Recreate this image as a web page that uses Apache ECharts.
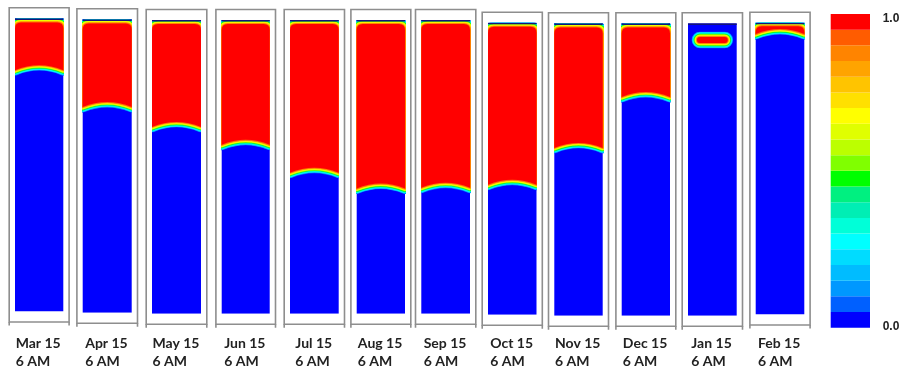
<!DOCTYPE html>
<html>
<head>
<meta charset="utf-8">
<script src="https://cdn.jsdelivr.net/npm/echarts@6/dist/echarts.min.js"></script>
<style>
  html, body { margin: 0; padding: 0; background: #ffffff; }
  #chart { width: 903px; height: 368px; }
</style>
</head>
<body>
<div id="chart"></div>
<script>
// ---- data ----------------------------------------------------------------
const months = ['Mar 15', 'Apr 15', 'May 15', 'Jun 15', 'Jul 15', 'Aug 15',
                'Sep 15', 'Oct 15', 'Nov 15', 'Dec 15', 'Jan 15', 'Feb 15'];
const timeOfDay = '6 AM';

// Top of the warm (1.0) zone in each tank, fraction of tank height
const warmTop = [0.986, 0.986, 0.986, 0.986, 0.986, 0.986,
                 0.986, 0.986, 0.986, 0.986, 0.953, 0.988];
// Bottom of the warm zone (thermocline, at tank centre line)
const warmBottom = [0.840, 0.718, 0.653, 0.592, 0.497, 0.443,
                    0.446, 0.462, 0.591, 0.765, 0.933, 0.978];
// Width of the warm zone as a fraction of tank width
const warmWidth = [1, 1, 1, 1, 1, 1, 1, 1, 1, 1, 0.63, 1];

// Colour scale, 0.0 (bottom) to 1.0 (top)
const scaleColors = ['#0000ff', '#0060ff', '#0098ff', '#00bcff', '#00dcff',
                     '#00ffff', '#00ffd8', '#00eeb4', '#00f080', '#00ff00',
                     '#80ff00', '#bcff00', '#e0ff00', '#ffff00', '#ffe000',
                     '#ffc400', '#ffa400', '#ff8400', '#ff5c00', '#ff0000'];
const scaleTicks = [0, 1];

// ---- layout --------------------------------------------------------------
// inner box of each tank: [left, top, width, height] in px
const tankBox = [
  [15.0, 18.3, 48.3, 294.4], [82.7, 19.3, 49.0, 294.7], [152.0, 20.0, 49.0, 295.0],
  [221.7, 20.0, 48.0, 295.0], [290.0, 20.0, 48.7, 295.0], [356.7, 20.0, 48.3, 295.0],
  [421.3, 20.0, 48.7, 295.0], [488.0, 22.7, 48.5, 293.3], [554.3, 23.3, 48.4, 293.7],
  [621.7, 23.3, 48.3, 293.7], [688.0, 23.3, 48.7, 293.7], [755.7, 22.7, 48.6, 293.0]
];
const LABEL_TOP = 336;
const FRAME_SIDE = 5.8, FRAME_TOP = 10.5, FRAME_BOTTOM = 10.5, FRAME_LEG = 3.5;
const FRAME_COLOR = '#8e8e8e';
const CORNER = 6, DROP = 5, STEP = 0.3;
const LABEL_FONT = 'Lato';

const measureCtx = document.createElement('canvas').getContext('2d');
measureCtx.font = 'bold 14px ' + LABEL_FONT;

// ---- renderers -----------------------------------------------------------
function renderFrame(params, api) {
  const cs = params.coordSys;
  const l = cs.x - FRAME_SIDE, r = cs.x + cs.width + FRAME_SIDE;
  const t = cs.y - FRAME_TOP, b = cs.y + cs.height + FRAME_BOTTOM;
  const line = { stroke: FRAME_COLOR, lineWidth: 1.6 };
  return {
    type: 'group',
    children: [
      { type: 'rect', shape: { x: l, y: t, width: r - l, height: b - t },
        style: { fill: '#ffffff', stroke: FRAME_COLOR, lineWidth: 1.6 } },
      { type: 'line', shape: { x1: l, y1: b, x2: l, y2: b + FRAME_LEG }, style: line },
      { type: 'line', shape: { x1: r, y1: b, x2: r, y2: b + FRAME_LEG }, style: line }
    ]
  };
}

// outline of the warm zone: flat lid with rounded corners, domed thermocline
function warmOutline(cs, yT, yB, widthFrac) {
  const xl = cs.x, xr = cs.x + cs.width, xc = cs.x + cs.width / 2;
  if (widthFrac < 1) {
    const w = cs.width * widthFrac;
    return () => ({ type: 'rect',
      shape: { x: xc - w / 2, y: yT, width: w, height: yB - yT, r: (yB - yT) / 2 } });
  }
  const yE = yB + DROP;
  const yCtl = 2 * yB - yE;
  const d = `M${xl} ${yE} L${xl} ${yT + CORNER} Q${xl} ${yT} ${xl + CORNER} ${yT} ` +
            `L${xr - CORNER} ${yT} Q${xr} ${yT} ${xr} ${yT + CORNER} L${xr} ${yE} ` +
            `Q${xc} ${yCtl} ${xl} ${yE} Z`;
  return () => ({ type: 'path', shape: { pathData: d } });
}

function renderFluid(params, api) {
  const cs = params.coordSys;
  const yT = api.coord([0, api.value(1)])[1];
  const yB = api.coord([0, api.value(2)])[1];
  const make = warmOutline(cs, yT, yB, api.value(3));
  const n = scaleColors.length - 1;
  const children = [
    { type: 'rect', shape: { x: cs.x, y: cs.y, width: cs.width, height: cs.height },
      style: { fill: scaleColors[0] } }
  ];
  // graded band around the warm zone, coolest colour widest
  for (let k = 1; k < n; k++) {
    const el = make();
    el.style = { fill: null, stroke: scaleColors[k], lineWidth: 2 * (n - k) * STEP, lineJoin: 'round' };
    children.push(el);
  }
  const core = make();
  core.style = { fill: scaleColors[n] };
  children.push(core);
  // tank lid
  children.push({ type: 'rect', shape: { x: cs.x, y: cs.y, width: cs.width, height: 1.6 },
                  style: { fill: '#14147a' } });
  return { type: 'group', children };
}

function renderScale(params, api) {
  const k = api.value(1);
  const n = scaleColors.length;
  const y0 = api.coord([0, k / n])[1];
  const y1 = api.coord([0, (k + 1) / n])[1];
  const cs = params.coordSys;
  return { type: 'rect', shape: { x: cs.x, y: y1, width: cs.width, height: y0 - y1 },
           style: { fill: scaleColors[k] } };
}

// ---- option --------------------------------------------------------------
const grid = [], xAxis = [], yAxis = [], series = [];
months.forEach((m, i) => {
  const [left, top, width, height] = tankBox[i];
  grid.push({ left, top, width, height });
  const w = Math.ceil(measureCtx.measureText(m).width) + 1;
  xAxis.push({
    gridIndex: i, type: 'category', data: [m],
    axisLine: { show: false }, axisTick: { show: false }, splitLine: { show: false },
    axisLabel: {
      margin: LABEL_TOP - (top + height),
      formatter: v => `{a|${v}}\n{a|${timeOfDay}}`,
      rich: { a: { width: w, align: 'left', fontFamily: LABEL_FONT, fontWeight: 'bold',
                   fontSize: 14, lineHeight: 17.5, color: '#222222' } }
    }
  });
  yAxis.push({ gridIndex: i, type: 'value', min: 0, max: 1, show: false });
  series.push({
    type: 'custom', xAxisIndex: i, yAxisIndex: i, z: 1, clip: false, silent: true,
    renderItem: renderFrame, data: [[0]]
  });
  series.push({
    type: 'custom', xAxisIndex: i, yAxisIndex: i, z: 2, clip: true, silent: true,
    renderItem: renderFluid, data: [[0, warmTop[i], warmBottom[i], warmWidth[i]]]
  });
});

// colour scale
const si = months.length;
grid.push({ left: 830.7, top: 14, width: 39.3, height: 313.7 });
xAxis.push({ gridIndex: si, type: 'category', data: [''], show: false });
yAxis.push({
  gridIndex: si, type: 'value', min: scaleTicks[0], max: scaleTicks[1], interval: 1,
  position: 'right',
  axisLine: { show: false }, axisTick: { show: false }, splitLine: { show: false },
  axisLabel: {
    margin: 12.7,
    formatter: v => v === scaleTicks[1] ? `{hi|${v.toFixed(1)}}` : `{lo|${v.toFixed(1)}}`,
    rich: {
      hi: { padding: [10, 0, 0, 0], fontFamily: 'Liberation Sans', fontWeight: 'bold', fontSize: 12, color: '#222222' },
      lo: { padding: [0, 0, 3, 0], fontFamily: 'Liberation Sans', fontWeight: 'bold', fontSize: 12, color: '#222222' }
    }
  }
});
series.push({
  type: 'custom', xAxisIndex: si, yAxisIndex: si, silent: true,
  renderItem: renderScale, data: scaleColors.map((c, k) => [0, k])
});

const chart = echarts.init(document.getElementById('chart'), null, { renderer: 'canvas' });
chart.setOption({ animation: false, backgroundColor: '#ffffff', grid, xAxis, yAxis, series });
</script>
</body>
</html>
